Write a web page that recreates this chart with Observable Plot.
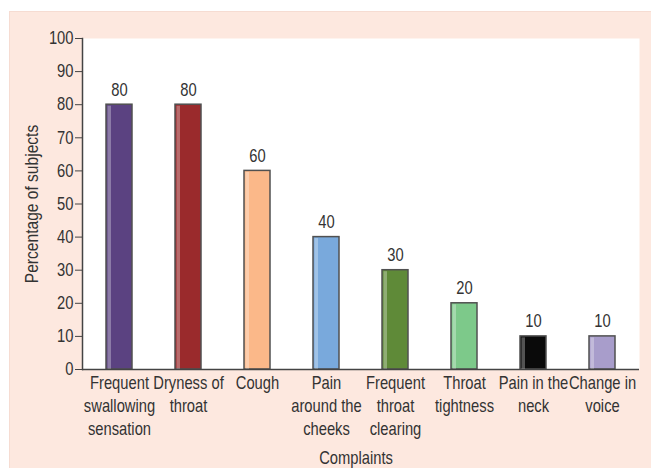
<!DOCTYPE html>
<html>
<head>
<meta charset="utf-8">
<script src="https://cdn.jsdelivr.net/npm/d3@7"></script>
<script src="https://cdn.jsdelivr.net/npm/@observablehq/plot@0.6"></script>
<style>
  html, body { margin: 0; padding: 0; background: #ffffff; }
  #panel { position: absolute; left: 9px; top: 11px; width: 642px; height: 457px; background: #fde8df; border-top: 1px solid #f6dcd2; border-left: 1px solid #f6dcd2; box-sizing: border-box; }
  #chart { position: absolute; left: 0; top: 0; }
</style>
</head>
<body>
<div id="panel"></div>
<div id="chart"></div>
<script>
// Complaints reported by subjects (multi-line labels)
const complaints = [
  "Frequent\nswallowing\nsensation",
  "Dryness of\nthroat",
  "Cough",
  "Pain\naround the\ncheeks",
  "Frequent\nthroat\nclearing",
  "Throat\ntightness",
  "Pain in the\nneck",
  "Change in\nvoice"
];
// Percentage of subjects with each complaint
const percentages = [80, 80, 60, 40, 30, 20, 10, 10];
// Fill colour of each bar
const barColors = ["#5b4281", "#9a2a2c", "#fbb889", "#79a9dc", "#5f8a38", "#7dc98a", "#0a0a0a", "#a89dcb"];
// Y-axis tick values
const yTicks = [0, 10, 20, 30, 40, 50, 60, 70, 80, 90, 100];

const rows = complaints.map((c, i) => ({complaint: c, pct: percentages[i], color: barColors[i]}));

const font = '"Liberation Sans", Arial, sans-serif';
const ink = "#333333";
const narrow = 0.82; // horizontal squeeze giving a condensed sans look

const chart = Plot.plot({
  width: 651,
  height: 468,
  marginLeft: 82,
  marginRight: 12,
  marginTop: 38,
  marginBottom: 99,
  style: {background: "transparent", fontFamily: font, fontSize: "18px", color: ink, overflow: "visible"},
  x: {domain: complaints, paddingInner: 0.63, paddingOuter: 0.315, label: null},
  y: {domain: [0, 100], label: null},
  color: {type: "identity"},
  marks: [
    Plot.frame({fill: "white", stroke: null}),
    Plot.barY(rows, {x: "complaint", y: "pct", fill: "color", stroke: "#505050", strokeWidth: 1.5}),
    // light sheen along the left edge of each bar
    Plot.barY(rows, {x: "complaint", y: "pct", fill: "white", fillOpacity: 0.3, insetLeft: 1.5, insetRight: 21, insetTop: 1.5}),
    Plot.text(rows, {x: "complaint", y: "pct", text: d => String(d.pct), dy: -9, lineAnchor: "bottom", fontSize: 18, fill: ink}),
    Plot.ruleY([0], {stroke: "#444", strokeWidth: 1.5}),
    Plot.frame({anchor: "left", stroke: "#444", strokeWidth: 1.5}),
    Plot.axisY({ticks: yTicks, tickSize: 7, tickPadding: 2, fontSize: 18, label: null, stroke: "#444", fill: ink}),
    Plot.axisX({tickSize: 0, tickPadding: 3, fontSize: 18, lineHeight: 1.28, label: null, fill: ink}),
    Plot.text(["Percentage of subjects"], {text: d => d, frameAnchor: "left", textAnchor: "middle", lineAnchor: "middle", rotate: -90, dx: -51, fontSize: 19, fill: ink}),
    Plot.text(["Complaints"], {text: d => d, frameAnchor: "bottom", textAnchor: "middle", lineAnchor: "middle", dy: 89, dx: -5, fontSize: 18, fill: ink})
  ]
});

// Squeeze every label horizontally about its own anchor point
chart.querySelectorAll("text").forEach(t => {
  const tr = t.getAttribute("transform");
  if (tr && tr.includes("translate")) {
    t.setAttribute("transform", tr + ` scale(${narrow},1)`);
  } else {
    const x = +(t.getAttribute("x") || 0), y = +(t.getAttribute("y") || 0);
    t.setAttribute("transform", `${tr || ""} translate(${x},${y}) scale(${narrow},1) translate(${-x},${-y})`);
  }
});

document.getElementById("chart").appendChild(chart);
</script>
</body>
</html>
